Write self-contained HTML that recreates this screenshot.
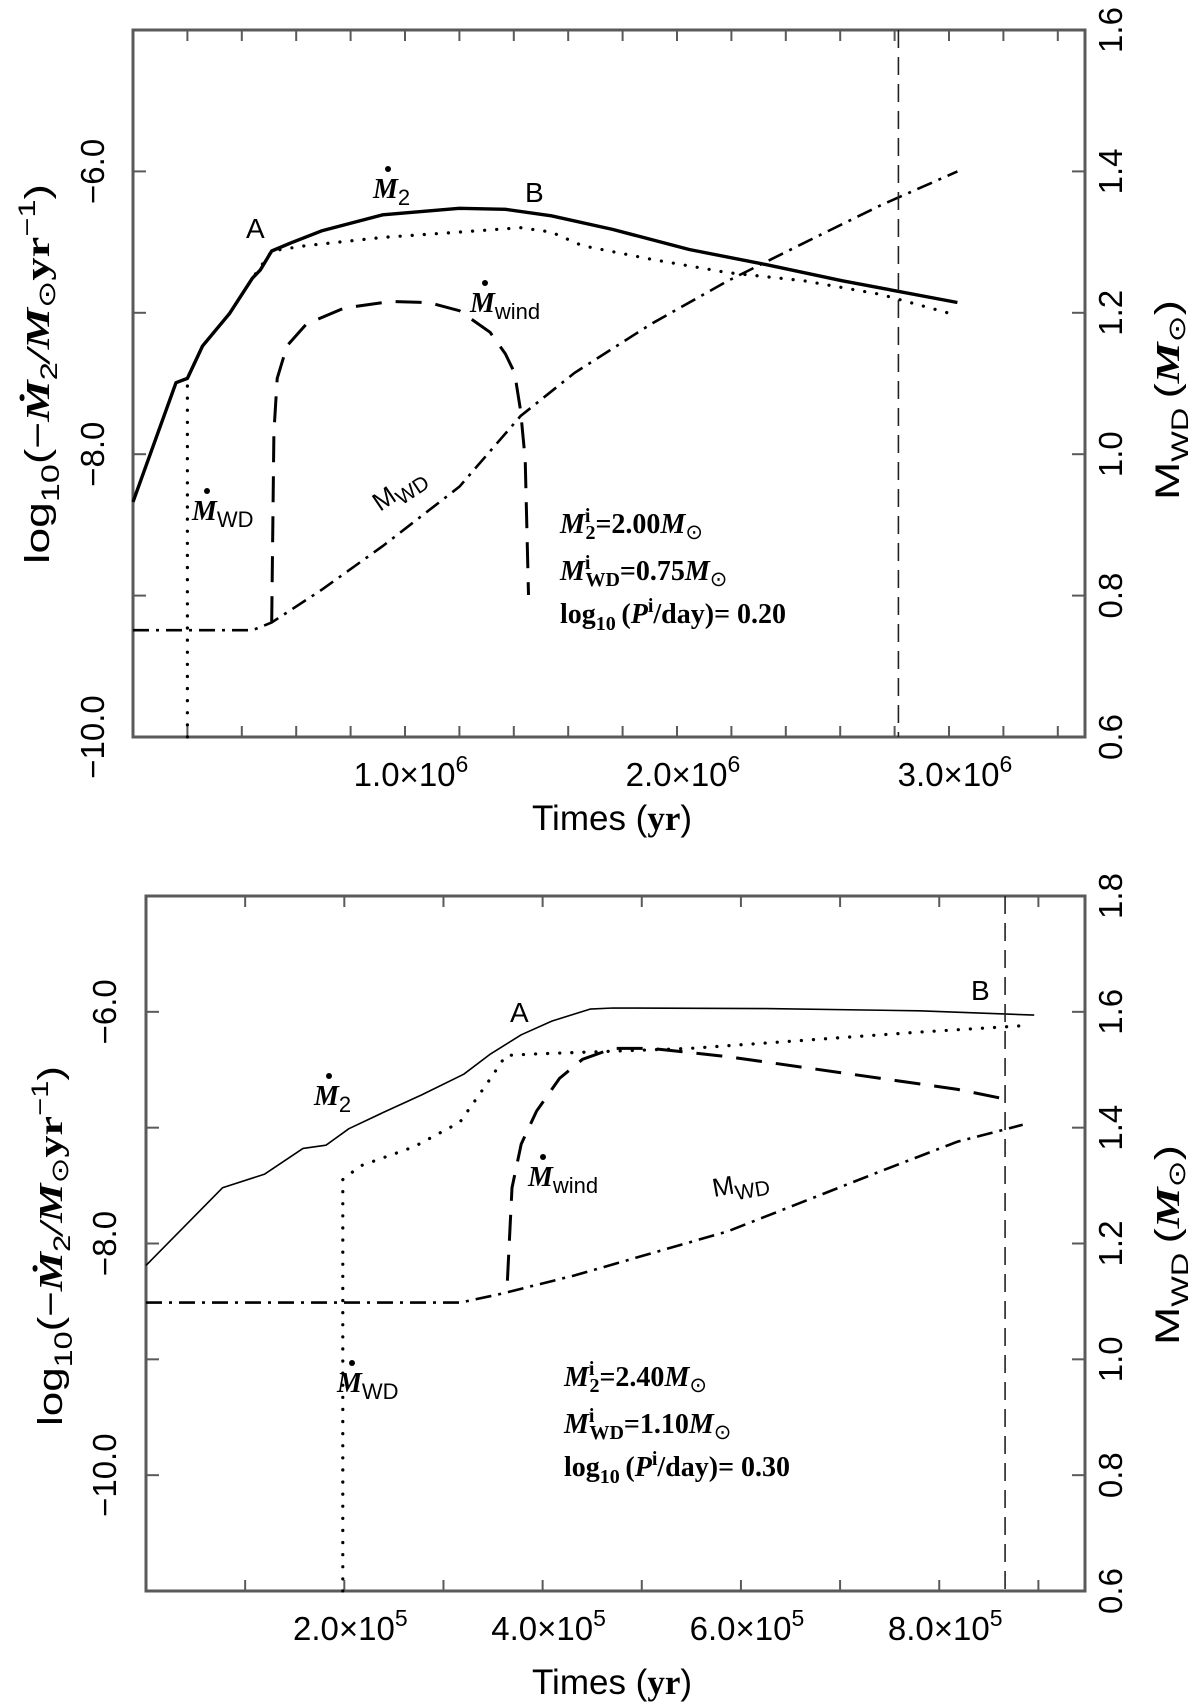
<!DOCTYPE html>
<html><head><meta charset="utf-8">
<style>
html,body{margin:0;padding:0;background:#fff;}
svg{display:block;}
.sans{font-family:"Liberation Sans",sans-serif;}
.serif{font-family:"Liberation Serif",serif;}
</style></head>
<body>
<svg id="fig" width="1200" height="1704" viewBox="0 0 1200 1704" xmlns="http://www.w3.org/2000/svg">
<g id="top"></g>
<g id="bot"></g>
</svg>
<script>
// ---- Top panel data (time in yr, rate in log10, mass in Msun)
const topM2T = [0,0.158e6,0.2e6,0.256e6,0.355e6,0.439e6,0.468e6,0.51e6,0.58e6,0.693e6,0.918e6,1.2e6,1.369e6,1.538e6,1.763e6,2.045e6,2.327e6,2.608e6,3.031e6];
const topM2V = [-8.337,-7.494,-7.464,-7.234,-7.004,-6.755,-6.697,-6.563,-6.506,-6.421,-6.307,-6.261,-6.268,-6.314,-6.41,-6.552,-6.659,-6.774,-6.927];
const topWDT = [0.2e6,0.2e6,0.256e6,0.355e6,0.439e6,0.51e6,0.637e6,0.918e6,1.2e6,1.425e6,1.538e6,1.651e6,1.904e6,2.186e6,2.468e6,2.749e6,3.003e6];
const topWDV = [-10,-7.464,-7.234,-7.004,-6.755,-6.563,-6.525,-6.467,-6.429,-6.398,-6.429,-6.525,-6.621,-6.716,-6.774,-6.87,-7.004];
const topWindT = [0.51e6,0.518e6,0.53e6,0.566e6,0.637e6,0.777e6,0.946e6,1.087e6,1.2e6,1.256e6,1.313e6,1.369e6,1.403e6,1.425e6,1.442e6,1.454e6];
const topWindV = [-9.188,-7.847,-7.464,-7.234,-7.08,-6.966,-6.92,-6.927,-6.985,-7.061,-7.138,-7.291,-7.425,-7.693,-8.038,-8.996];
const topMassT = [0,0.439e6,0.51e6,0.693e6,0.918e6,1.2e6,1.425e6,1.623e6,1.904e6,2.186e6,2.468e6,2.749e6,3.031e6];
const topMassV = [0.751,0.751,0.762,0.808,0.870,0.954,1.054,1.115,1.184,1.245,1.299,1.352,1.4];
const topVLine = [2.814e6];
const topXTicks = [1e6,2e6,3e6];
const topXTickLabels = ["1.0×10","2.0×10","3.0×10"];
const topXExp = "6";
const topYTicks = [-6,-8,-10];
const topYTickLabels = ["−6.0","−8.0","−10.0"];
const topRTicks = [0.6,0.8,1.0,1.2,1.4,1.6];
const topRTickLabels = ["0.6","0.8","1.0","1.2","1.4","1.6"];
const topParams = ["2.00","0.75","0.20"];

// ---- Bottom panel data
const botM2T = [0,0.772e5,1.197e5,1.583e5,1.815e5,2.046e5,2.394e5,2.78e5,3.205e5,3.475e5,3.784e5,4.093e5,4.479e5,4.71e5,6.255e5,7.8e5,8.958e5];
const botM2V = [-8.189,-7.519,-7.401,-7.179,-7.151,-7.009,-6.868,-6.717,-6.538,-6.363,-6.198,-6.08,-5.976,-5.967,-5.972,-5.991,-6.028];
const botWDT = [1.985e5,1.985e5,2.162e5,2.703e5,3.166e5,3.475e5,3.629e5,3.938e5,4.71e5,5.483e5,6.255e5,7.027e5,7.8e5,8.88e5];
const botWDV = [-11,-7.448,-7.33,-7.165,-6.953,-6.575,-6.377,-6.363,-6.34,-6.316,-6.269,-6.222,-6.175,-6.118];
const botWindT = [3.645e5,3.691e5,3.784e5,3.938e5,4.17e5,4.402e5,4.71e5,5.097e5,5.869e5,6.641e5,7.413e5,8.185e5,8.726e5];
const botWindV = [-8.321,-7.519,-7.142,-6.858,-6.575,-6.41,-6.316,-6.316,-6.387,-6.481,-6.575,-6.67,-6.764];
const botMassT = [0,3.166e5,3.552e5,4.324e5,5.097e5,5.869e5,6.641e5,7.413e5,8.185e5,8.842e5];
const botMassV = [1.098,1.098,1.112,1.145,1.183,1.221,1.273,1.325,1.376,1.405];
const botVLine = [8.664e5];
const botXTicks = [2e5,4e5,6e5,8e5];
const botXTickLabels = ["2.0×10","4.0×10","6.0×10","8.0×10"];
const botXExp = "5";
const botYTicks = [-6,-8,-10];
const botYTickLabels = ["−6.0","−8.0","−10.0"];
const botRTicks = [0.6,0.8,1.0,1.2,1.4,1.6,1.8];
const botRTickLabels = ["0.6","0.8","1.0","1.2","1.4","1.6","1.8"];
const botParams = ["2.40","1.10","0.30"];

const NS = "http://www.w3.org/2000/svg";
function mk(parent, tag, attrs, txt){
  const e = document.createElementNS(NS, tag);
  for (const k in attrs) e.setAttribute(k, attrs[k]);
  if (txt !== undefined) e.textContent = txt;
  parent.appendChild(e);
  return e;
}
function ts(parent, attrs, txt){ return mk(parent,'tspan',attrs,txt); }

function makeAxes(cfg){
  const sx = v => cfg.x0 + (v - cfg.xmin) / (cfg.xmax - cfg.xmin) * (cfg.x1 - cfg.x0);
  const sy = v => cfg.y1 - (v - cfg.ymin) / (cfg.ymax - cfg.ymin) * (cfg.y1 - cfg.y0);
  const sm = v => cfg.y1 - (v - cfg.mmin) / (cfg.mmax - cfg.mmin) * (cfg.y1 - cfg.y0);
  return {sx, sy, sm};
}
function pathD(xs, ys, fx, fy){
  let d = "";
  for (let i = 0; i < xs.length; i++) d += (i ? "L" : "M") + fx(xs[i]).toFixed(1) + "," + fy(ys[i]).toFixed(1);
  return d;
}

function drawPanel(g, cfg, D){
  const ax = makeAxes(cfg);
  const fc = "#5a5a5a";
  const fr = mk(g,'rect',{x:cfg.x0,y:cfg.y0,width:cfg.x1-cfg.x0,height:cfg.y1-cfg.y0,fill:'none',stroke:fc,'stroke-width':3});
  
  
  for (let v = cfg.xmin + cfg.xstep; v < cfg.xmax - 1; v += cfg.xstep){
    const x = ax.sx(v);
    const t1 = mk(g,'line',{x1:x,y1:cfg.y1,x2:x,y2:cfg.y1-11,stroke:fc,'stroke-width':2});
    
    
    const t2 = mk(g,'line',{x1:x,y1:cfg.y0,x2:x,y2:cfg.y0+11,stroke:fc,'stroke-width':2});
    
    
  }
  for (let v = cfg.ymin + 1; v < cfg.ymax; v += 1){
    const y = ax.sy(v);
    const t = mk(g,'line',{x1:cfg.x0,y1:y,x2:cfg.x0+13,y2:y,stroke:fc,'stroke-width':2});
    
    
  }
  D.rTicks.forEach(v => {
    const y = ax.sm(v);
    const t = mk(g,'line',{x1:cfg.x1,y1:y,x2:cfg.x1-13,y2:y,stroke:fc,'stroke-width':2});
    
    
  });
  D.xTicks.forEach((v,i) => {
    const t = mk(g,'text',{x:ax.sx(v)+6,y:cfg.xLabY,'text-anchor':'middle','font-size':33,class:'sans'});
    
    
    ts(t,{},D.xLabels[i]);
    ts(t,{dy:-14,'font-size':23},D.xExp);
  });
  D.yTicks.forEach((v,i) => {
    const y = ax.sy(v);
    const t = mk(g,'text',{x:0,y:0,transform:`translate(${cfg.yLabX},${y}) rotate(-90)`,'text-anchor':'middle','font-size':33,class:'sans'},D.yLabels[i]);
    
    
  });
  D.rTicks.forEach((v,i) => {
    const y = ax.sm(v);
    const t = mk(g,'text',{x:0,y:0,transform:`translate(${cfg.x1+37},${y}) rotate(-90)`,'text-anchor':'middle','font-size':33,class:'sans'},D.rLabels[i]);
    
    
  });
  const s1 = mk(g,'path',{d:pathD(D.m2T,D.m2V,ax.sx,ax.sy),fill:'none',stroke:'#000','stroke-width':cfg.solidW,'stroke-linejoin':'round'});
  
  
  const s2 = mk(g,'path',{d:pathD(D.wdT,D.wdV,ax.sx,ax.sy),fill:'none',stroke:'#000','stroke-width':3.2,'stroke-linecap':'round','stroke-dasharray':'0.1 12'});
  
  
  const s3 = mk(g,'path',{d:pathD(D.windT,D.windV,ax.sx,ax.sy),fill:'none',stroke:'#000','stroke-width':3,'stroke-dasharray':'26 14'});
  
  
  const s4 = mk(g,'path',{d:pathD(D.massT,D.massV,ax.sx,ax.sm),fill:'none',stroke:'#000','stroke-width':2.6,'stroke-dasharray':'16 7 3 7'});
  
  
  D.vline.forEach(v => {
    const l = mk(g,'line',{x1:ax.sx(v),y1:cfg.y0,x2:ax.sx(v),y2:cfg.y1,stroke:'#222','stroke-width':1.6,'stroke-dasharray':'18 9'});
    
    
  });
  const xt = mk(g,'text',{x:cfg.xTitleX,y:cfg.xTitleY,'text-anchor':'middle','font-size':35,class:'sans'});
  
  
  ts(xt,{},"Times (");
  ts(xt,{class:'serif','font-weight':'bold'},"yr");
  ts(xt,{},")");

  const lt = mk(g,'text',{x:0,y:0,transform:`translate(${cfg.lTitleX},${cfg.lTitleY}) rotate(-90)`,'text-anchor':'middle','font-size':34,class:'sans',textLength:cfg.lTitleLen,lengthAdjust:'spacingAndGlyphs'});
  
  
  ts(lt,{},"log");
  ts(lt,{dy:10,'font-size':25},"10");
  ts(lt,{dy:-10},"(−");
  ts(lt,{class:'serif','font-weight':'bold','font-style':'italic'},"Ṁ");
  ts(lt,{dy:8,'font-size':24},"2");
  ts(lt,{dy:-8,class:'serif','font-weight':'bold','font-style':'italic'},"/M");
  ts(lt,{dy:6,'font-size':24},"⊙");
  ts(lt,{dy:-6,class:'serif','font-weight':'bold'},"yr");
  ts(lt,{dy:-14,'font-size':24},"−1");
  ts(lt,{dy:14},")");

  const rt = mk(g,'text',{x:0,y:0,transform:`translate(${cfg.x1+94},${cfg.rTitleY}) rotate(-90)`,'text-anchor':'middle','font-size':34,class:'sans',textLength:200,lengthAdjust:'spacingAndGlyphs'});
  
  
  ts(rt,{},"M");
  ts(rt,{dy:9,'font-size':24},"WD");
  ts(rt,{dy:-9},"\u2009(");
  ts(rt,{class:'serif','font-weight':'bold','font-style':'italic'},"M");
  ts(rt,{dy:6,'font-size':24},"⊙");
  ts(rt,{dy:-6},")");
  return ax;
}

function mdot(g, x, y, sub, subSans, name){
  const t = mk(g,'text',{x:x,y:y,'font-size':28,class:'serif','font-weight':'bold','font-style':'italic'});
  
  
  ts(t,{},"M");
  ts(t,{dy:7,'font-size':22,class:subSans?'sans':'serif','font-weight':'normal','font-style':'normal'},sub);
  const c = mk(g,'circle',{cx:x+15,cy:y-29,r:3,fill:'#000'});
  
  
}
function label(g, x, y, txt, name){
  const t = mk(g,'text',{x:x,y:y,'font-size':28,class:'sans'},txt);
  
  
}
function mwdLabel(g, x, y, rot){
  const t = mk(g,'text',{x:0,y:0,transform:`translate(${x},${y}) rotate(${rot})`,'font-size':26,class:'sans'});
  
  
  ts(t,{},"M");
  ts(t,{dy:7,'font-size':21},"WD");
}
function params(g, x, y, p){
  const a = mk(g,'text',{x:x,y:y,'font-size':28,class:'serif','font-weight':'bold'});
  
  
  ts(a,{'font-style':'italic'},"M");
  ts(a,{dy:-11,'font-size':20},"i");
  ts(a,{dx:-5,dy:17,'font-size':20},"2");
  ts(a,{dy:-6},"="+p[0]);
  ts(a,{'font-style':'italic'},"M");
  ts(a,{dy:6,'font-size':21,'font-weight':'normal'},"⊙");
  const b = mk(g,'text',{x:x,y:y+47,'font-size':28,class:'serif','font-weight':'bold'});
  
  
  ts(b,{'font-style':'italic'},"M");
  ts(b,{dy:-11,'font-size':20},"i");
  ts(b,{dx:-5,dy:17,'font-size':20},"WD");
  ts(b,{dy:-6},"="+p[1]);
  ts(b,{'font-style':'italic'},"M");
  ts(b,{dy:6,'font-size':21,'font-weight':'normal'},"⊙");
  const c = mk(g,'text',{x:x,y:y+90,'font-size':28,class:'serif','font-weight':'bold'});
  
  
  ts(c,{},"log");
  ts(c,{dy:7,'font-size':20},"10");
  ts(c,{dy:-7},"\u2009(");
  ts(c,{'font-style':'italic'},"P");
  ts(c,{dy:-11,'font-size':20},"i");
  ts(c,{dy:11},"/day)=  "+p[2]);
}

const gTop = document.getElementById('top');
drawPanel(gTop,
  {x0:133,x1:1085,y0:30,y1:737,xmin:0,xmax:3.5e6,ymin:-10,ymax:-5,mmin:0.6,mmax:1.6,xstep:0.2e6,
   xLabY:786,yLabX:104,solidW:3.4,xTitleX:612,xTitleY:830,lTitleX:49,lTitleY:374,lTitleLen:380,rTitleY:400},
  {m2T:topM2T,m2V:topM2V,wdT:topWDT,wdV:topWDV,windT:topWindT,windV:topWindV,massT:topMassT,massV:topMassV,
   vline:topVLine,xTicks:topXTicks,xLabels:topXTickLabels,xExp:topXExp,yTicks:topYTicks,yLabels:topYTickLabels,
   rTicks:topRTicks,rLabels:topRTickLabels});
label(gTop,246,238,"A","label-a");
label(gTop,525,202,"B","label-b");
mdot(gTop,373,198,"2",true,"m2-dot-label");
mdot(gTop,470,312,"wind",true,"mwind-label");
mdot(gTop,192,520,"WD",true,"mwd-dot-label");
mwdLabel(gTop,380,512,-34);
params(gTop,560,533,topParams);

const gBot = document.getElementById('bot');
drawPanel(gBot,
  {x0:146,x1:1085,y0:896,y1:1591,xmin:0,xmax:9.47e5,ymin:-11,ymax:-5,mmin:0.6,mmax:1.8,xstep:1e5,
   xLabY:1640,yLabX:116,solidW:1.6,xTitleX:612,xTitleY:1694,lTitleX:62,lTitleY:1246,lTitleLen:360,rTitleY:1245},
  {m2T:botM2T,m2V:botM2V,wdT:botWDT,wdV:botWDV,windT:botWindT,windV:botWindV,massT:botMassT,massV:botMassV,
   vline:botVLine,xTicks:botXTicks,xLabels:botXTickLabels,xExp:botXExp,yTicks:botYTicks,yLabels:botYTickLabels,
   rTicks:botRTicks,rLabels:botRTickLabels});
label(gBot,510,1022,"A","label-a");
label(gBot,971,1000,"B","label-b");
mdot(gBot,314,1105,"2",true,"m2-dot-label");
mdot(gBot,528,1186,"wind",true,"mwind-label");
mdot(gBot,337,1392,"WD",true,"mwd-dot-label");
mwdLabel(gBot,714,1197,-10);
params(gBot,564,1386,botParams);
</script>
</body></html>
